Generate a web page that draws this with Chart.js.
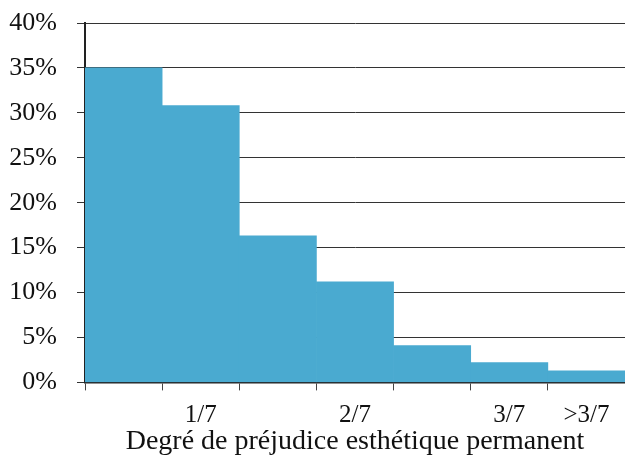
<!DOCTYPE html>
<html>
<head>
<meta charset="utf-8">
<script src="https://cdn.jsdelivr.net/npm/chart.js@4/dist/chart.umd.min.js"></script>
<style>
  html, body { margin: 0; padding: 0; background: #fff; }
  #wrap { width: 625px; height: 462px; }
</style>
</head>
<body>
<div id="wrap"><canvas id="chart"></canvas></div>
<script>
// catégories (seules certaines portent une étiquette)
const categories = ['', '1/7', '', '2/7', '', '3/7', '>3/7'];
const pourcentages = [35.0, 30.8, 16.3, 11.2, 4.1, 2.2, 1.3];
const axisTitle = 'Degré de préjudice esthétique permanent';

const serif = 'Liberation Serif, Times New Roman, serif';

const ctx = document.getElementById('chart').getContext('2d');
new Chart(ctx, {
    type: 'bar',
    data: {
        labels: categories,
        datasets: [{
            data: pourcentages,
            backgroundColor: '#4aaad0',
            borderWidth: 0,
            categoryPercentage: 1.0,
            barPercentage: 1.0,
        }]
    },
    options: {
        responsive: true,
        maintainAspectRatio: false,
        animation: false,
        layout: { padding: { top: 23, right: 0, left: 0, bottom: 4 } },
        plugins: {
            legend: { display: false },
            tooltip: { enabled: false }
        },
        scales: {
            x: {
                offset: true,
                grid: {
                    offset: true,
                    drawOnChartArea: false,
                    drawTicks: true,
                    tickLength: 8,
                    color: '#444'
                },
                border: { color: '#222', width: 1.5 },
                ticks: {
                    color: '#111',
                    font: { family: serif, size: 25 },
                    maxRotation: 0,
                    autoSkip: false,
                    padding: 10
                },
                title: {
                    display: true,
                    text: axisTitle,
                    color: '#111',
                    font: { family: serif, size: 28 },
                    padding: { top: -16, bottom: 0 }
                }
            },
            y: {
                min: 0,
                max: 40,
                afterFit: scale => {
                    scale.width = 85;
                    scale.paddingTop = 0;
                },
                grid: {
                    color: '#333',
                    tickLength: 8,
                    lineWidth: 1
                },
                border: { color: '#222', width: 2 },
                ticks: {
                    stepSize: 5,
                    color: '#111',
                    font: { family: serif, size: 26 },
                    padding: 20,
                    callback: v => v + '%'
                }
            }
        }
    }
});
</script>
</body>
</html>
